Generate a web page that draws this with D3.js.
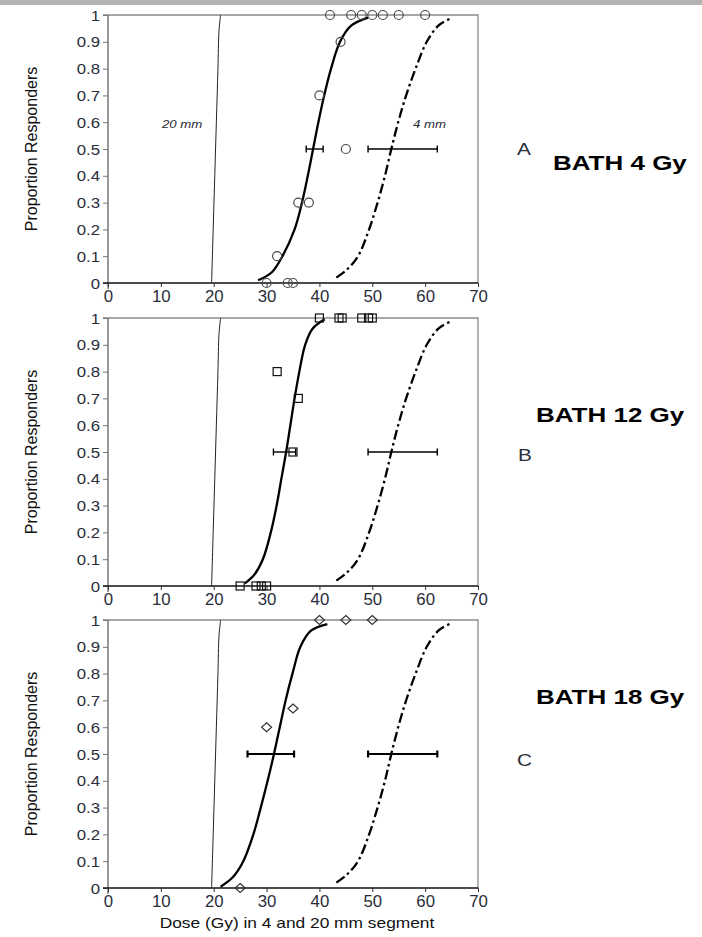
<!DOCTYPE html>
<html>
<head>
<meta charset="utf-8">
<script src="https://cdn.jsdelivr.net/npm/d3@7"></script>
<style>
  body { margin: 0; background: #fff; }
  svg { display: block; font-family: "Liberation Sans", Arial, sans-serif; }
</style>
</head>
<body>
<div id="chart"></div>
<script>
// ---- data ----
const panelIds = ['A', 'B', 'C'];
const panelTitles = ['BATH 4 Gy', 'BATH 12 Gy', 'BATH 18 Gy'];
const markerKinds = ['circle', 'square', 'diamond'];

const xTicks = [0, 10, 20, 30, 40, 50, 60, 70];
const yTicks = [0, 0.1, 0.2, 0.3, 0.4, 0.5, 0.6, 0.7, 0.8, 0.9, 1];
const yTickLabels = ['0', '0.1', '0.2', '0.3', '0.4', '0.5', '0.6', '0.7', '0.8', '0.9', '1'];

// 20 mm segment fit (same in all panels)
const curve20mm = [[19.6, 0], [19.9, 0.2], [20.2, 0.4], [20.5, 0.6], [20.8, 0.8], [21.0, 0.94], [21.3, 1]];
// 4 mm segment fit (same in all panels)
const curve4mm = [[43.2, 0.02], [45.2, 0.05], [47.3, 0.1], [49.4, 0.2], [51.0, 0.3], [52.4, 0.4], [53.6, 0.5],
  [54.9, 0.6], [56.4, 0.7], [58.2, 0.8], [60.3, 0.9], [62.5, 0.96], [64.6, 0.985]];
const err4mm = [49.2, 62.3];

// BATH fits, one per panel
const curveA = [[28.4, 0.01], [31, 0.04], [33, 0.1], [35.3, 0.2], [36.7, 0.3], [37.8, 0.4], [38.8, 0.5],
  [39.8, 0.6], [40.9, 0.7], [42.2, 0.8], [43.9, 0.9], [46, 0.96], [49.2, 0.99]];
const curveB = [[25.9, 0.01], [27.6, 0.04], [29.3, 0.1], [30.8, 0.2], [31.9, 0.3], [32.8, 0.4], [33.7, 0.5],
  [34.5, 0.6], [35.3, 0.7], [36.2, 0.8], [37.3, 0.9], [38.7, 0.96], [41, 0.995]];
const curveC = [[21.3, 0.005], [23.6, 0.04], [25.6, 0.1], [27.5, 0.2], [28.9, 0.3], [30.2, 0.4], [31.4, 0.5],
  [32.5, 0.6], [33.6, 0.7], [34.9, 0.8], [36.4, 0.9], [38.4, 0.96], [41.5, 0.985]];
const errA = [37.5, 40.7];
const errB = [31.3, 35.5];
const errC = [26.4, 35.2];

// observed responses (dose, proportion)
const pointsA = [[42, 1], [46, 1], [48, 1], [50, 1], [52, 1], [55, 1], [60, 1], [44, 0.9], [40, 0.7], [45, 0.5],
  [36, 0.3], [38, 0.3], [32, 0.1], [30, 0], [34, 0], [35, 0]];
const pointsB = [[40, 1], [43.7, 1], [44.3, 1], [48, 1], [49.3, 1], [50, 1], [32, 0.8], [36, 0.7], [35, 0.5],
  [25, 0], [28, 0], [29, 0], [30, 0]];
const pointsC = [[40, 1], [45, 1], [50, 1], [35, 0.67], [30, 0.6], [25, 0]];

const fitCurves = [curveA, curveB, curveC];
const fitErrors = [errA, errB, errC];
const observed = [pointsA, pointsB, pointsC];

// ---- layout ----
const width = 702, height = 937;
const plotLeft = 108, plotRight = 478;
const panelTop = [15, 318, 620];
const panelBottom = [283, 586, 888];
const titlePos = [[553, 170], [536, 422], [536, 704]];
const letterPos = [[517, 155], [518, 461], [517, 766]];
const textColor = '#2a2d3a';

const svg = d3.select('#chart').append('svg')
  .attr('width', width)
  .attr('height', height);

// grey strip along the top edge
svg.append('rect')
  .attr('x', 0).attr('y', 0)
  .attr('width', width).attr('height', 5)
  .attr('fill', '#b3b3b3');

const x = d3.scaleLinear().domain([0, 70]).range([plotLeft, plotRight]);

const line = (y) => d3.line()
  .x(d => x(d[0]))
  .y(d => y(d[1]))
  .curve(d3.curveCatmullRom.alpha(0.5));

function stretchedText(g, px, py, txt, size, sx, opts = {}) {
  return g.append('text')
    .attr('transform', `translate(${px},${py}) scale(${sx},1)`)
    .attr('font-size', size)
    .attr('font-weight', opts.bold ? 'bold' : null)
    .attr('font-style', opts.italic ? 'italic' : null)
    .attr('text-anchor', opts.anchor || 'start')
    .attr('fill', opts.color || textColor)
    .text(txt);
}

panelIds.forEach((id, i) => {
  const top = panelTop[i], bottom = panelBottom[i];
  const y = d3.scaleLinear().domain([0, 1]).range([bottom, top]);
  const g = svg.append('g').attr('class', 'panel-' + id);

  // frame: top and right edges
  g.append('path')
    .attr('d', `M${plotLeft - 5},${top}H${plotRight}V${bottom}`)
    .attr('fill', 'none')
    .attr('stroke', '#8a8a8a')
    .attr('stroke-width', 1.3);

  // y axis
  const yAxis = d3.axisLeft(y).tickValues(yTicks).tickSize(5).tickSizeOuter(0)
    .tickFormat((d, k) => yTickLabels[k]);
  const ya = g.append('g')
    .attr('transform', `translate(${plotLeft},0)`)
    .call(yAxis);
  ya.select('.domain').attr('stroke', '#777').attr('stroke-width', 1.5)
    .attr('d', `M0,${top}V${bottom + 6}`);
  ya.selectAll('.tick line').attr('stroke', '#777');
  ya.selectAll('.tick text')
    .attr('x', null).attr('dy', null)
    .attr('transform', 'translate(-8,5) scale(1.2,1)')
    .attr('font-size', 14)
    .attr('font-family', null)
    .attr('fill', textColor);

  // x axis
  const xAxis = d3.axisBottom(x).tickValues(xTicks).tickSize(4).tickSizeOuter(0);
  const xa = g.append('g')
    .attr('transform', `translate(0,${bottom})`)
    .call(xAxis);
  xa.select('.domain').attr('stroke', '#111').attr('stroke-width', 1.6)
    .attr('d', `M${plotLeft - 5},0H${plotRight}`);
  xa.selectAll('.tick line').attr('stroke', '#333');
  xa.selectAll('.tick text')
    .attr('y', null).attr('dy', null)
    .attr('transform', 'translate(0,19) scale(1.05,1)')
    .attr('font-size', 16)
    .attr('font-family', null)
    .attr('fill', textColor);

  // y axis title
  g.append('text')
    .attr('transform', `translate(37,${(top + bottom) / 2}) rotate(-90)`)
    .attr('text-anchor', 'middle')
    .attr('font-size', 16)
    .attr('fill', '#111')
    .text('Proportion Responders');

  // 20 mm fit
  g.append('path')
    .attr('d', line(y)(curve20mm))
    .attr('fill', 'none')
    .attr('stroke', '#222')
    .attr('stroke-width', 1);

  // 4 mm fit (dash-dot)
  g.append('path')
    .attr('d', line(y)(curve4mm))
    .attr('fill', 'none')
    .attr('stroke', '#000')
    .attr('stroke-width', 2.3)
    .attr('stroke-dasharray', '10,3.5,2.5,3.5');

  // BATH fit (solid)
  g.append('path')
    .attr('d', line(y)(fitCurves[i]))
    .attr('fill', 'none')
    .attr('stroke', '#000')
    .attr('stroke-width', 2.3);

  // ED50 error bars
  const bw = i === 2 ? 2.2 : 1.4;
  [fitErrors[i], err4mm].forEach(e => {
    const eg = g.append('g').attr('stroke', '#000').attr('stroke-width', bw);
    eg.append('line')
      .attr('x1', x(e[0])).attr('x2', x(e[1]))
      .attr('y1', y(0.5)).attr('y2', y(0.5));
    e.forEach(v => eg.append('line')
      .attr('x1', x(v)).attr('x2', x(v))
      .attr('y1', y(0.5) - 3.5).attr('y2', y(0.5) + 3.5));
  });

  // observations
  const pts = g.append('g')
    .attr('fill', 'none')
    .attr('stroke-width', 1.2);
  const kind = markerKinds[i];
  observed[i].forEach(p => {
    const cx = x(p[0]), cy = y(p[1]);
    if (kind === 'circle') {
      pts.append('circle').attr('cx', cx).attr('cy', cy).attr('r', 4.5).attr('stroke', '#4a4a4a');
    } else if (kind === 'square') {
      pts.append('rect').attr('x', cx - 4).attr('y', cy - 4)
        .attr('width', 8).attr('height', 8).attr('stroke', '#111');
    } else {
      pts.append('path')
        .attr('d', `M${cx},${cy - 4.5}L${cx + 5},${cy}L${cx},${cy + 4.5}L${cx - 5},${cy}Z`)
        .attr('stroke', '#333');
    }
  });

  // right-hand labels
  stretchedText(g, titlePos[i][0], titlePos[i][1], panelTitles[i], 20, 1.3, { bold: true, color: '#000' });
  stretchedText(g, letterPos[i][0], letterPos[i][1], id, 16, 1.3, { color: textColor });
});

// segment labels in the top panel
const g0 = svg.select('.panel-A');
stretchedText(g0, 162, 128, '20 mm', 11.5, 1.15, { italic: true });
stretchedText(g0, 413, 128, '4 mm', 11.5, 1.15, { italic: true });

// x axis title
stretchedText(svg, 297, 928, 'Dose (Gy) in 4 and 20 mm segment', 14, 1.24, { anchor: 'middle', color: '#111' });
</script>
</body>
</html>
